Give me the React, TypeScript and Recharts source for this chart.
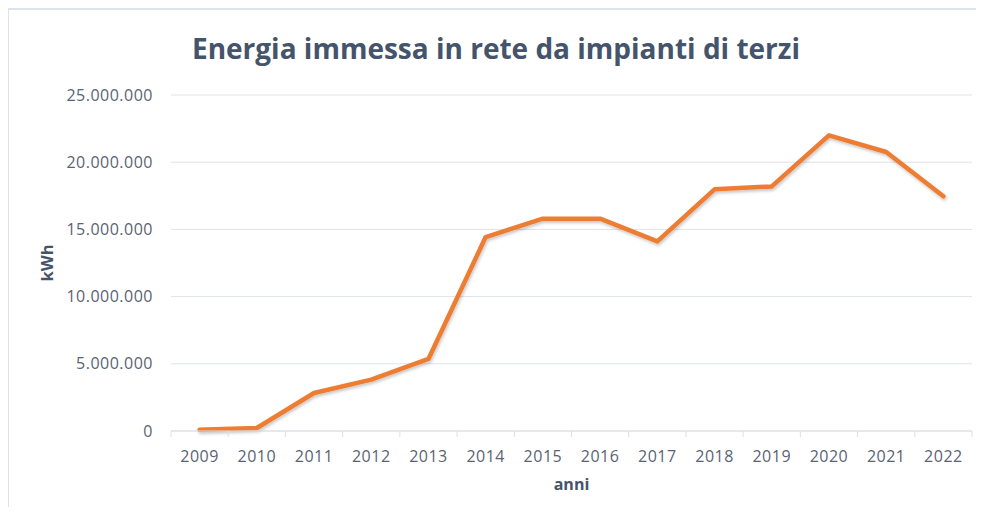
import React, { useLayoutEffect } from 'react';
import { LineChart, Line, XAxis, YAxis, CartesianGrid, Label } from 'recharts';

const title = 'Energia immessa in rete da impianti di terzi';
const years = ['2009', '2010', '2011', '2012', '2013', '2014', '2015', '2016', '2017', '2018', '2019', '2020', '2021', '2022'];
const values = [100000, 220000, 2830000, 3820000, 5360000, 14430000, 15800000, 15800000, 14110000, 17980000, 18200000, 22000000, 20760000, 17460000];
const yTicks = [0, 5000000, 10000000, 15000000, 20000000, 25000000];
const yLabel = 'kWh';
const xLabel = 'anni';

const data = years.map((y, i) => ({ pos: i + 0.5, year: y, value: values[i] }));
const boundaryTicks = [...years.map((_, i) => i), years.length];
const centerTicks = years.map((_, i) => i + 0.5);

const fmt = (v: number) => String(Math.round(v)).replace(/\B(?=(\d{3})+(?!\d))/g, '.');

const FONT = '"Open Sans", sans-serif';
const TICK_COLOR = '#5a6372';
const TITLE_COLOR = '#44546a';
const FRAME = '#dde3ea';

export default function App() {
  useLayoutEffect(() => {
    document.documentElement.style.overflow = 'hidden';
    document.body.style.overflow = 'hidden';
  }, []);
  return (
    <div style={{ position: 'relative', width: 976, height: 499, fontFamily: FONT, background: '#fff' }}>
      <div style={{ position: 'absolute', left: -1, top: 0, width: 2, height: 507, background: FRAME }} />
      <div style={{ position: 'absolute', left: -1, top: 0, width: 977, height: 2, background: FRAME }} />
      <div
        style={{
          position: 'absolute',
          left: 0,
          top: 20,
          width: 976,
          textAlign: 'center',
          fontSize: 28,
          lineHeight: '40px',
          fontWeight: 700,
          color: TITLE_COLOR,
          fontFamily: FONT,
        }}
      >
        {title}
      </div>
      <svg width={0} height={0} style={{ position: 'absolute', left: 0, top: 0 }}>
        <defs>
          <filter id="lineShadow" x="-5%" y="-5%" width="110%" height="120%">
            <feDropShadow dx="1" dy="2" stdDeviation="1.5" floodColor="#000" floodOpacity="0.22" />
          </filter>
        </defs>
      </svg>
      <LineChart
        width={976}
        height={499}
        data={data}
        margin={{ top: 87, right: 12, left: 0, bottom: 15 }}
      >
        <CartesianGrid horizontal vertical={false} stroke="#dfe3e8" strokeWidth={1} />
        <XAxis
          xAxisId="a0"
          dataKey="pos"
          type="number"
          domain={[0, years.length]}
          ticks={boundaryTicks}
          tickFormatter={() => ''}
          tickSize={6}
          height={1}
          axisLine={{ stroke: '#dbe0e7' }}
          tickLine={{ stroke: '#dbe0e7' }}
          allowDataOverflow
        />
        <XAxis
          xAxisId="b1"
          dataKey="pos"
          type="number"
          domain={[0, years.length]}
          ticks={centerTicks}
          tickFormatter={(v: number) => years[Math.floor(v)]}
          interval={0}
          height={60}
          tickSize={0}
          tickMargin={19}
          axisLine={false}
          tickLine={false}
          tick={{ fill: TICK_COLOR, fontSize: 16, fontFamily: FONT, letterSpacing: 0.5 }}
          allowDataOverflow
        >
          <Label
            value={xLabel}
            position="insideBottom"
            offset={2}
            style={{ fill: TITLE_COLOR, fontSize: 16, fontWeight: 700, fontFamily: FONT }}
          />
        </XAxis>
        <YAxis
          type="number"
          domain={[0, 25000000]}
          ticks={yTicks}
          tickFormatter={fmt}
          width={163}
          axisLine={false}
          tickLine={false}
          tickMargin={18}
          tickSize={0}
          tick={{ fill: TICK_COLOR, fontSize: 16, fontFamily: FONT, letterSpacing: 0.5 }}
        >
          <Label
            value={yLabel}
            angle={-90}
            position="insideLeft"
            offset={39}
            style={{ fill: TITLE_COLOR, fontSize: 16.5, fontWeight: 700, fontFamily: FONT, textAnchor: 'middle' }}
          />
        </YAxis>
        <Line
          xAxisId="a0"
          type="linear"
          dataKey="value"
          stroke="#ed7d31"
          strokeWidth={4.5}
          strokeLinejoin="round"
          strokeLinecap="round"
          dot={false}
          activeDot={false}
          isAnimationActive={false}
          style={{ filter: 'url(#lineShadow)' }}
        />
      </LineChart>
    </div>
  );
}
